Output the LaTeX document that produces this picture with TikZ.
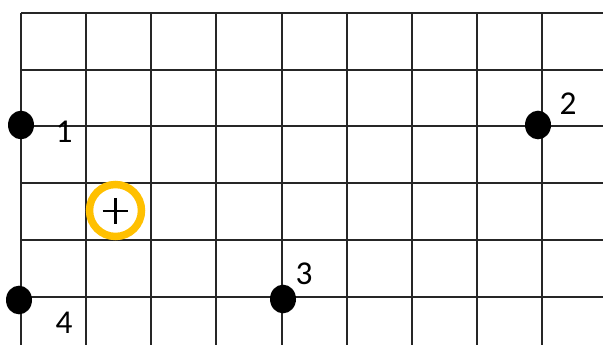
\documentclass[tikz,border=0pt]{standalone}
\usepackage{fontspec}
\setmainfont{Carlito}
\usetikzlibrary{shapes.geometric}
\definecolor{ringorange}{RGB}{255,192,0}
\begin{document}
\begin{tikzpicture}[x=0.75pt,y=-0.75pt,
  gridline/.style={line width=1.5pt,black!85},
  dot/.style={ellipse,fill=black,inner sep=0pt,minimum width=19.5pt,minimum height=21.5pt},
  lbl/.style={inner sep=0pt,font=\fontsize{25}{30}\selectfont},
  ring/.style={circle,draw=ringorange,line width=5.6pt,inner sep=0pt,minimum size=39pt}]
\useasboundingbox (0,0) rectangle (603,345);
% grid
\foreach \i in {0,...,8} {
  \draw[gridline] ({21+65.125*\i},12.7) -- ({21+65.125*\i},346);
}
\foreach \j in {0,...,5} {
  \draw[gridline] (21,{12.7+56.9*\j}) -- (604,{12.7+56.9*\j});
}
% marker
\node[ring] (target) at (115.5,210.5) {};
\coordinate (pl) at (102.7,211);
\coordinate (pr) at (128.3,211);
\coordinate (pt) at (115.5,198);
\coordinate (pb) at (115.5,224);
\draw[line width=2pt] (pl) -- (pr);
\draw[line width=2pt] (pt) -- (pb);
% dots
\node[dot] (d1) at (21,125) {};
\node[dot] (d2) at (538,125) {};
\node[dot] (d3) at (283,299) {};
\node[dot] (d4) at (19,300) {};
% labels
\node[lbl] (l1) at (64,132) {1};
\node[lbl] (l2) at (568,104) {2};
\node[lbl] (l3) at (304,274) {3};
\node[lbl] (l4) at (64,323) {4};
\end{tikzpicture}
\end{document}
